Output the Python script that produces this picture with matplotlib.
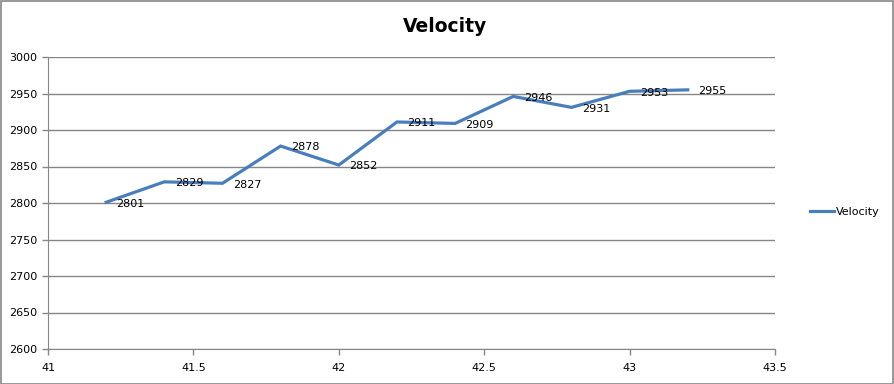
import matplotlib
matplotlib.use("Agg")
import matplotlib.pyplot as plt
from matplotlib.patches import Rectangle

x_vals = [41.2, 41.4, 41.6, 41.8, 42.0, 42.2, 42.4, 42.6, 42.8, 43.0, 43.2]
velocity = [2801, 2829, 2827, 2878, 2852, 2911, 2909, 2946, 2931, 2953, 2955]
x_ticks = [41, 41.5, 42, 42.5, 43, 43.5]
x_tick_labels = ["41", "41.5", "42", "42.5", "43", "43.5"]
y_ticks = [2600, 2650, 2700, 2750, 2800, 2850, 2900, 2950, 3000]

plt.rcParams['font.family'] = ['DejaVu Sans']
W, H = 894, 384
fig = plt.figure(figsize=(W / 100, H / 100), dpi=100)
fig.patch.set_facecolor("white")
fig.patches.append(Rectangle((0.5 / W, 0.5 / H), 1 - 1.5 / W, 1 - 1.5 / H, transform=fig.transFigure,
                             fill=False, edgecolor="#868686", linewidth=1.2))

ax = fig.add_axes([48 / W, 1 - 349 / H, (775 - 48) / W, (349 - 57) / H])
ax.plot(x_vals, velocity, color="#4a7ebb", linewidth=2.3, solid_joinstyle="miter", label="Velocity", zorder=3)
for xv, yv in zip(x_vals, velocity):
    ax.annotate(str(yv), (xv, yv), xytext=(7.5, -1), textcoords="offset points",
                ha="left", va="center", fontsize=8, color="black", zorder=4)

ax.set_xlim(41, 43.5)
ax.set_ylim(2600, 3000)
ax.set_xticks(x_ticks)
ax.set_xticklabels(x_tick_labels)
ax.set_yticks(y_ticks)
ax.grid(axis="y", color="#868686", linewidth=1)
ax.set_axisbelow(True)
for s in ["top", "right"]:
    ax.spines[s].set_visible(False)
for s in ["left", "bottom"]:
    ax.spines[s].set_color("#868686")
ax.tick_params(axis="both", colors="#868686", labelcolor="black", labelsize=8, length=4, width=1)
ax.tick_params(axis="x", pad=6)

fig.text(445 / W, 1 - 26 / H, "Velocity", fontsize=13.5, fontweight="bold", ha="center", va="center")

leg = fig.legend(handles=ax.get_lines(), loc="center left", bbox_to_anchor=(800 / W, 1 - 212 / H),
                 frameon=False, fontsize=8, handlelength=2.2, handletextpad=0.1)

fig.savefig("out.png", dpi=100, facecolor="white")
